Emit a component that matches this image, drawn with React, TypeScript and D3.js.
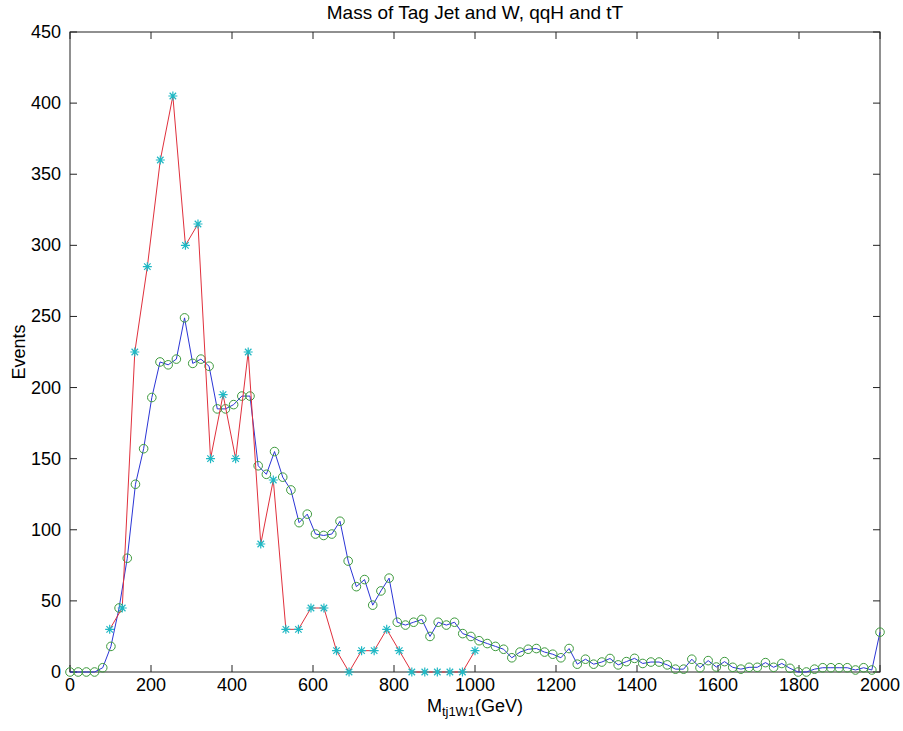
import React from 'react';
import * as d3 from 'd3';

const width = 903;
const height = 731;
const margin = { left: 70, right: 23, top: 32, bottom: 59 };

// qqH: 100 bins over 0..2000 GeV (blue line, green circles)
const qqHMass = d3.range(100).map(i => (i * 2000) / 99);
const qqHEvents = [
  0, 0, 0, 0, 3, 18, 45, 80, 132, 157,
  193, 218, 216, 220, 249, 217, 220, 215, 185, 185,
  188, 194, 194, 145, 139, 155, 137, 128, 105, 111,
  97, 96, 97, 106, 78, 60, 65, 47, 57, 66,
  35, 33, 35, 37, 25, 35, 33, 35, 27, 25,
  22, 20, 18, 16, 10, 14, 16, 16.5, 14, 12.5,
  10, 16.5, 5.5, 9, 5.5, 7, 9.5, 5, 7.3, 9.6,
  6, 7, 7, 5, 2, 2, 9, 3, 8, 3.5,
  7.3, 3.3, 2, 3.3, 3.3, 6.6, 3.3, 6, 2.6, 0,
  0, 2, 3, 3, 3, 3, 1.4, 3, 1.4, 28,
];

// tT (red line, cyan stars)
const tTMass = [
  98, 129, 160, 191, 223, 254, 285, 316, 347, 378,
  409, 440, 471, 502, 533, 564, 595, 627, 658, 689,
  720, 751, 782, 813, 844, 876, 907, 938, 969, 1000,
];
const tTEvents = [
  30, 45, 225, 285, 360, 405, 300, 315, 150, 195,
  150, 225, 90, 135, 30, 30, 45, 45, 15, 0,
  15, 15, 30, 15, 0, 0, 0, 0, 0, 15,
];

const xTicks = d3.range(0, 2001, 200);
const yTicks = d3.range(0, 451, 50);

const font = '"Liberation Sans", Arial, Helvetica, sans-serif';

const starPath = (cx: number, cy: number, r: number) => {
  const d = r * 0.72;
  return `M${cx - r},${cy}H${cx + r}M${cx},${cy - r}V${cy + r}` +
    `M${cx - d},${cy - d}L${cx + d},${cy + d}M${cx - d},${cy + d}L${cx + d},${cy - d}`;
};

export default function App() {
  const x = d3.scaleLinear().domain([0, 2000]).range([margin.left, width - margin.right]);
  const y = d3.scaleLinear().domain([0, 450]).range([height - margin.bottom, margin.top]);
  const x0 = x(0), x1 = x(2000), y0 = y(0), y1 = y(450);
  const tl = 7;

  const qqH = qqHMass.map((m, i) => [m, qqHEvents[i]] as [number, number]);
  const tT = tTMass.map((m, i) => [m, tTEvents[i]] as [number, number]);
  const line = d3.line<[number, number]>().x(d => x(d[0])).y(d => y(d[1]));

  return (
    <svg width={width} height={height} style={{ position: 'absolute', left: 0, top: 0, background: '#fff' }}
      fontFamily={font}>
      <rect x={0} y={0} width={width} height={height} fill="#fff" />
      <text x={(x0 + x1) / 2} y={19} textAnchor="middle" fontSize={19}>Mass of Tag Jet and W, qqH and tT</text>

      {/* ticks */}
      <g stroke="#222" strokeWidth={1}>
        {xTicks.map(t => (
          <g key={'x' + t}>
            <line x1={x(t)} x2={x(t)} y1={y0} y2={y0 - tl} />
            <line x1={x(t)} x2={x(t)} y1={y1} y2={y1 + tl} />
          </g>
        ))}
        {yTicks.map(t => (
          <g key={'y' + t}>
            <line x1={x0} x2={x0 + tl} y1={y(t)} y2={y(t)} />
            <line x1={x1} x2={x1 - tl} y1={y(t)} y2={y(t)} />
          </g>
        ))}
      </g>
      <rect x={x0} y={y1} width={x1 - x0} height={y0 - y1} fill="none" stroke="#222" strokeWidth={1} />

      {xTicks.map(t => (
        <text key={'xl' + t} x={x(t)} y={y0 + 19} textAnchor="middle" fontSize={18}>{t}</text>
      ))}
      {yTicks.map(t => (
        <text key={'yl' + t} x={x0 - 9} y={y(t) + 6} textAnchor="end" fontSize={18}>{t}</text>
      ))}

      <text x={(x0 + x1) / 2} y={y0 + 40} textAnchor="middle" fontSize={18}>
        M<tspan fontSize={13} dy={4}>tj1W1</tspan><tspan dy={-4}>(GeV)</tspan>
      </text>
      <text transform={`translate(25,${(y0 + y1) / 2}) rotate(-90)`} textAnchor="middle" fontSize={18}>Events</text>

      {/* qqH */}
      <path d={line(qqH) ?? ''} fill="none" stroke="#2b35d6" strokeWidth={1} />
      {qqH.map((d, i) => (
        <circle key={'c' + i} cx={x(d[0])} cy={y(d[1])} r={4.3} fill="none" stroke="#3d9a3d" strokeWidth={1} />
      ))}

      {/* tT */}
      <path d={line(tT) ?? ''} fill="none" stroke="#e0303c" strokeWidth={1} />
      {tT.map((d, i) => (
        <path key={'s' + i} d={starPath(x(d[0]), y(d[1]), 4.5)} fill="none" stroke="#1fb8c4" strokeWidth={1.2} />
      ))}
    </svg>
  );
}
